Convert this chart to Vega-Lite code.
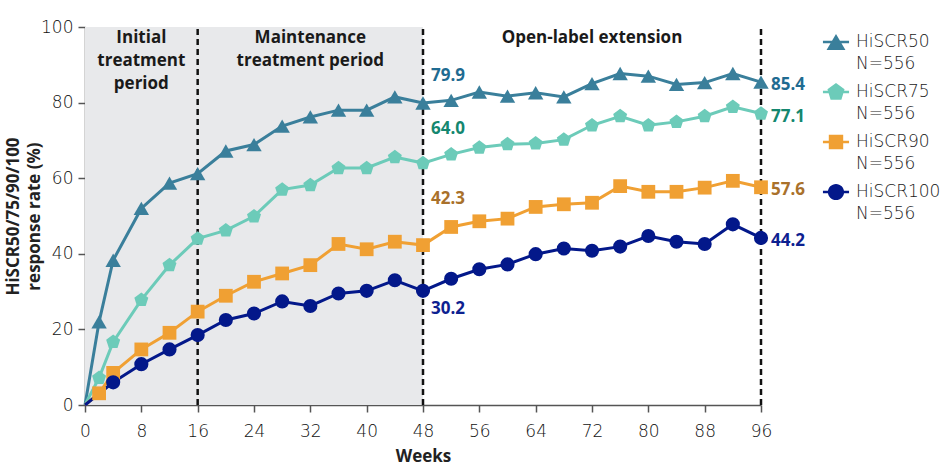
{
  "$schema": "https://vega.github.io/schema/vega-lite/v6.json",
  "width": 676,
  "height": 378,
  "autosize": "none",
  "padding": {"left": 85, "top": 27, "right": 186, "bottom": 69},
  "background": "white",
  "config": {
    "font": "Open Sans",
    "view": {"stroke": null},
    "style": {"guide-label": {"lineHeight": 21.5}},
    "axis": {
      "grid": false,
      "domainColor": "#555555",
      "domainWidth": 1.5,
      "tickColor": "#555555",
      "tickWidth": 1.5,
      "tickSize": 7,
      "labelFont": "DejaVu Sans",
      "labelFontSize": 17,
      "labelFontWeight": 300,
      "labelColor": "#111111",
      "titleFont": "Open Sans",
      "titleFontSize": 17,
      "titleFontWeight": "bold",
      "titleColor": "#222222"
    },
    "legend": {
      "orient": "none", "legendX": 742, "legendY": 6, "title": null, "padding": 0,
      "symbolSize": 324, "labelFontSize": 17, "labelFont": "DejaVu Sans", "labelFontWeight": 300, "labelColor": "#1a1a1a",
      "labelOffset": 11, "rowPadding": 11, "labelLimit": 200
    }
  },
  "datasets": {
    "resp": [
      {"week": 0, "series": "HiSCR50", "value": 0},
      {"week": 2, "series": "HiSCR50", "value": 22.0},
      {"week": 4, "series": "HiSCR50", "value": 38.3},
      {"week": 8, "series": "HiSCR50", "value": 52.0},
      {"week": 12, "series": "HiSCR50", "value": 58.7},
      {"week": 16, "series": "HiSCR50", "value": 61.2},
      {"week": 20, "series": "HiSCR50", "value": 67.2},
      {"week": 24, "series": "HiSCR50", "value": 68.9},
      {"week": 28, "series": "HiSCR50", "value": 73.8},
      {"week": 32, "series": "HiSCR50", "value": 76.2},
      {"week": 36, "series": "HiSCR50", "value": 78.0},
      {"week": 40, "series": "HiSCR50", "value": 78.0},
      {"week": 44, "series": "HiSCR50", "value": 81.5},
      {"week": 48, "series": "HiSCR50", "value": 79.9},
      {"week": 52, "series": "HiSCR50", "value": 80.6},
      {"week": 56, "series": "HiSCR50", "value": 82.8},
      {"week": 60, "series": "HiSCR50", "value": 81.7},
      {"week": 64, "series": "HiSCR50", "value": 82.6},
      {"week": 68, "series": "HiSCR50", "value": 81.5},
      {"week": 72, "series": "HiSCR50", "value": 85.0},
      {"week": 76, "series": "HiSCR50", "value": 87.7},
      {"week": 80, "series": "HiSCR50", "value": 87.0},
      {"week": 84, "series": "HiSCR50", "value": 84.8},
      {"week": 88, "series": "HiSCR50", "value": 85.3},
      {"week": 92, "series": "HiSCR50", "value": 87.7},
      {"week": 96, "series": "HiSCR50", "value": 85.4},
      {"week": 0, "series": "HiSCR75", "value": 0},
      {"week": 2, "series": "HiSCR75", "value": 7.2},
      {"week": 4, "series": "HiSCR75", "value": 16.7},
      {"week": 8, "series": "HiSCR75", "value": 27.8},
      {"week": 12, "series": "HiSCR75", "value": 37.0},
      {"week": 16, "series": "HiSCR75", "value": 44.0},
      {"week": 20, "series": "HiSCR75", "value": 46.2},
      {"week": 24, "series": "HiSCR75", "value": 49.9},
      {"week": 28, "series": "HiSCR75", "value": 57.0},
      {"week": 32, "series": "HiSCR75", "value": 58.2},
      {"week": 36, "series": "HiSCR75", "value": 62.7},
      {"week": 40, "series": "HiSCR75", "value": 62.7},
      {"week": 44, "series": "HiSCR75", "value": 65.6},
      {"week": 48, "series": "HiSCR75", "value": 64.0},
      {"week": 52, "series": "HiSCR75", "value": 66.3},
      {"week": 56, "series": "HiSCR75", "value": 68.1},
      {"week": 60, "series": "HiSCR75", "value": 69.0},
      {"week": 64, "series": "HiSCR75", "value": 69.2},
      {"week": 68, "series": "HiSCR75", "value": 70.2},
      {"week": 72, "series": "HiSCR75", "value": 74.0},
      {"week": 76, "series": "HiSCR75", "value": 76.4},
      {"week": 80, "series": "HiSCR75", "value": 74.0},
      {"week": 84, "series": "HiSCR75", "value": 74.9},
      {"week": 88, "series": "HiSCR75", "value": 76.4},
      {"week": 92, "series": "HiSCR75", "value": 78.9},
      {"week": 96, "series": "HiSCR75", "value": 77.1},
      {"week": 0, "series": "HiSCR90", "value": 0},
      {"week": 2, "series": "HiSCR90", "value": 3.1},
      {"week": 4, "series": "HiSCR90", "value": 8.5},
      {"week": 8, "series": "HiSCR90", "value": 14.7},
      {"week": 12, "series": "HiSCR90", "value": 19.1},
      {"week": 16, "series": "HiSCR90", "value": 24.7},
      {"week": 20, "series": "HiSCR90", "value": 28.9},
      {"week": 24, "series": "HiSCR90", "value": 32.6},
      {"week": 28, "series": "HiSCR90", "value": 34.8},
      {"week": 32, "series": "HiSCR90", "value": 37.0},
      {"week": 36, "series": "HiSCR90", "value": 42.6},
      {"week": 40, "series": "HiSCR90", "value": 41.2},
      {"week": 44, "series": "HiSCR90", "value": 43.2},
      {"week": 48, "series": "HiSCR90", "value": 42.3},
      {"week": 52, "series": "HiSCR90", "value": 47.1},
      {"week": 56, "series": "HiSCR90", "value": 48.6},
      {"week": 60, "series": "HiSCR90", "value": 49.3},
      {"week": 64, "series": "HiSCR90", "value": 52.4},
      {"week": 68, "series": "HiSCR90", "value": 53.1},
      {"week": 72, "series": "HiSCR90", "value": 53.5},
      {"week": 76, "series": "HiSCR90", "value": 57.9},
      {"week": 80, "series": "HiSCR90", "value": 56.4},
      {"week": 84, "series": "HiSCR90", "value": 56.4},
      {"week": 88, "series": "HiSCR90", "value": 57.5},
      {"week": 92, "series": "HiSCR90", "value": 59.3},
      {"week": 96, "series": "HiSCR90", "value": 57.6},
      {"week": 0, "series": "HiSCR100", "value": 0},
      {"week": 4, "series": "HiSCR100", "value": 6.0},
      {"week": 8, "series": "HiSCR100", "value": 10.8},
      {"week": 12, "series": "HiSCR100", "value": 14.7},
      {"week": 16, "series": "HiSCR100", "value": 18.5},
      {"week": 20, "series": "HiSCR100", "value": 22.5},
      {"week": 24, "series": "HiSCR100", "value": 24.2},
      {"week": 28, "series": "HiSCR100", "value": 27.4},
      {"week": 32, "series": "HiSCR100", "value": 26.2},
      {"week": 36, "series": "HiSCR100", "value": 29.5},
      {"week": 40, "series": "HiSCR100", "value": 30.2},
      {"week": 44, "series": "HiSCR100", "value": 33.0},
      {"week": 48, "series": "HiSCR100", "value": 30.2},
      {"week": 52, "series": "HiSCR100", "value": 33.4},
      {"week": 56, "series": "HiSCR100", "value": 35.9},
      {"week": 60, "series": "HiSCR100", "value": 37.2},
      {"week": 64, "series": "HiSCR100", "value": 39.9},
      {"week": 68, "series": "HiSCR100", "value": 41.4},
      {"week": 72, "series": "HiSCR100", "value": 40.8},
      {"week": 76, "series": "HiSCR100", "value": 41.9},
      {"week": 80, "series": "HiSCR100", "value": 44.7},
      {"week": 84, "series": "HiSCR100", "value": 43.2},
      {"week": 88, "series": "HiSCR100", "value": 42.6},
      {"week": 92, "series": "HiSCR100", "value": 47.8},
      {"week": 96, "series": "HiSCR100", "value": 44.2}
    ],
    "shaded": [{"start": 0, "end": 48}],
    "dividers": [{"week": 16}, {"week": 48}, {"week": 96}],
    "periods": [
      {"week": 8, "label": "Initial\ntreatment\nperiod"},
      {"week": 32, "label": "Maintenance\ntreatment period"},
      {"week": 72, "label": "Open-label extension"}
    ]
  },
  "layer": [
    {
      "data": {"name": "shaded"},
      "mark": {"type": "rect", "fill": "#e8e9eb"},
      "encoding": {
        "x": {"field": "start", "type": "quantitative", "scale": {"domain": [0, 96], "nice": false}, "axis": {"values": [0, 8, 16, 24, 32, 40, 48, 56, 64, 72, 80, 88, 96], "title": "Weeks", "labelPadding": 11, "titlePadding": 9, "labelFlush": false}},
        "x2": {"field": "end"},
        "y": {"datum": 0, "type": "quantitative", "scale": {"domain": [0, 100], "nice": false}, "axis": {"values": [0, 20, 40, 60, 80, 100], "title": ["HiSCR50/75/90/100", "response rate (%)"], "labelPadding": 5, "titleLineHeight": 21, "titleX": -72, "titleY": 189, "titleAlign": "center", "titleBaseline": "middle"}},
        "y2": {"datum": 100}
      }
    },
    {
      "data": {"name": "dividers"},
      "mark": {"type": "rule", "color": "#111111", "strokeWidth": 2.5, "strokeDash": [6, 4]},
      "encoding": {
        "x": {"field": "week", "type": "quantitative"},
        "y": {"datum": 0, "type": "quantitative"},
        "y2": {"datum": 100}
      }
    },
    {
      "data": {"name": "periods"},
      "mark": {"type": "text", "lineBreak": "\n", "align": "center", "baseline": "top", "fontWeight": "bold", "fontSize": 17, "lineHeight": 23, "dy": 3, "color": "#1a1a1a"},
      "encoding": {
        "x": {"field": "week", "type": "quantitative"},
        "y": {"datum": 100, "type": "quantitative"},
        "text": {"field": "label"}
      }
    },
    {
      "data": {"name": "resp"},
      "mark": {"type": "line", "strokeWidth": 3},
      "encoding": {
        "x": {"field": "week", "type": "quantitative"},
        "y": {"field": "value", "type": "quantitative"},
        "color": {"field": "series", "type": "nominal", "scale": {"domain": ["HiSCR50", "HiSCR75", "HiSCR90", "HiSCR100"], "range": ["#3a7f9b", "#6ccbb9", "#f0a033", "#03188a"]}},
        "order": {"field": "week"}
      }
    },
    {
      "data": {"name": "resp"},
      "transform": [{"filter": "datum.series === 'HiSCR50' && datum.week > 0"}],
      "mark": {"type": "point", "filled": true, "opacity": 1, "size": 196, "strokeWidth": 0, "shape": "M0,-0.95L1.1,0.95L-1.1,0.95Z"},
      "encoding": {
        "x": {"field": "week", "type": "quantitative"},
        "y": {"field": "value", "type": "quantitative"},
        "color": {"field": "series", "type": "nominal", "legend": {"labelExpr": "[datum.label, 'N=556']", "symbolStrokeWidth": 0, "symbolOpacity": 1, "symbolType": {"expr": "datum.value === 'HiSCR50' ? 'M-1.45,-0.14L1.45,-0.14L1.45,0.14L-1.45,0.14ZM0,-0.9L1.05,0.9L-1.05,0.9Z' : datum.value === 'HiSCR75' ? 'M-1.45,-0.14L1.45,-0.14L1.45,0.14L-1.45,0.14ZM0,-1L0.95,-0.3L0.6,0.85L-0.6,0.85L-0.95,-0.3Z' : datum.value === 'HiSCR90' ? 'M-1.45,-0.14L1.45,-0.14L1.45,0.14L-1.45,0.14ZM-0.8,-0.8L0.8,-0.8L0.8,0.8L-0.8,0.8Z' : 'M-1.45,-0.14L1.45,-0.14L1.45,0.14L-1.45,0.14ZM0.9,0A0.9,0.9,0,1,1,-0.9,0A0.9,0.9,0,1,1,0.9,0Z'"}}}
      }
    },
    {
      "data": {"name": "resp"},
      "transform": [{"filter": "datum.series === 'HiSCR75' && datum.week > 0"}],
      "mark": {"type": "point", "filled": true, "opacity": 1, "size": 196, "strokeWidth": 0, "shape": "M0,-1.05L1,-0.3L0.62,0.88L-0.62,0.88L-1,-0.3Z"},
      "encoding": {
        "x": {"field": "week", "type": "quantitative"},
        "y": {"field": "value", "type": "quantitative"},
        "color": {"field": "series", "type": "nominal", "legend": {"labelExpr": "[datum.label, 'N=556']", "symbolStrokeWidth": 0, "symbolOpacity": 1, "symbolType": {"expr": "datum.value === 'HiSCR50' ? 'M-1.45,-0.14L1.45,-0.14L1.45,0.14L-1.45,0.14ZM0,-0.9L1.05,0.9L-1.05,0.9Z' : datum.value === 'HiSCR75' ? 'M-1.45,-0.14L1.45,-0.14L1.45,0.14L-1.45,0.14ZM0,-1L0.95,-0.3L0.6,0.85L-0.6,0.85L-0.95,-0.3Z' : datum.value === 'HiSCR90' ? 'M-1.45,-0.14L1.45,-0.14L1.45,0.14L-1.45,0.14ZM-0.8,-0.8L0.8,-0.8L0.8,0.8L-0.8,0.8Z' : 'M-1.45,-0.14L1.45,-0.14L1.45,0.14L-1.45,0.14ZM0.9,0A0.9,0.9,0,1,1,-0.9,0A0.9,0.9,0,1,1,0.9,0Z'"}}}
      }
    },
    {
      "data": {"name": "resp"},
      "transform": [{"filter": "datum.series === 'HiSCR90' && datum.week > 0"}],
      "mark": {"type": "point", "filled": true, "opacity": 1, "size": 190, "strokeWidth": 0, "shape": "square"},
      "encoding": {
        "x": {"field": "week", "type": "quantitative"},
        "y": {"field": "value", "type": "quantitative"},
        "color": {"field": "series", "type": "nominal", "legend": {"labelExpr": "[datum.label, 'N=556']", "symbolStrokeWidth": 0, "symbolOpacity": 1, "symbolType": {"expr": "datum.value === 'HiSCR50' ? 'M-1.45,-0.14L1.45,-0.14L1.45,0.14L-1.45,0.14ZM0,-0.9L1.05,0.9L-1.05,0.9Z' : datum.value === 'HiSCR75' ? 'M-1.45,-0.14L1.45,-0.14L1.45,0.14L-1.45,0.14ZM0,-1L0.95,-0.3L0.6,0.85L-0.6,0.85L-0.95,-0.3Z' : datum.value === 'HiSCR90' ? 'M-1.45,-0.14L1.45,-0.14L1.45,0.14L-1.45,0.14ZM-0.8,-0.8L0.8,-0.8L0.8,0.8L-0.8,0.8Z' : 'M-1.45,-0.14L1.45,-0.14L1.45,0.14L-1.45,0.14ZM0.9,0A0.9,0.9,0,1,1,-0.9,0A0.9,0.9,0,1,1,0.9,0Z'"}}}
      }
    },
    {
      "data": {"name": "resp"},
      "transform": [{"filter": "datum.series === 'HiSCR100' && datum.week > 0"}],
      "mark": {"type": "point", "filled": true, "opacity": 1, "size": 200, "strokeWidth": 0, "shape": "circle"},
      "encoding": {
        "x": {"field": "week", "type": "quantitative"},
        "y": {"field": "value", "type": "quantitative"},
        "color": {"field": "series", "type": "nominal", "legend": {"labelExpr": "[datum.label, 'N=556']", "symbolStrokeWidth": 0, "symbolOpacity": 1, "symbolType": {"expr": "datum.value === 'HiSCR50' ? 'M-1.45,-0.14L1.45,-0.14L1.45,0.14L-1.45,0.14ZM0,-0.9L1.05,0.9L-1.05,0.9Z' : datum.value === 'HiSCR75' ? 'M-1.45,-0.14L1.45,-0.14L1.45,0.14L-1.45,0.14ZM0,-1L0.95,-0.3L0.6,0.85L-0.6,0.85L-0.95,-0.3Z' : datum.value === 'HiSCR90' ? 'M-1.45,-0.14L1.45,-0.14L1.45,0.14L-1.45,0.14ZM-0.8,-0.8L0.8,-0.8L0.8,0.8L-0.8,0.8Z' : 'M-1.45,-0.14L1.45,-0.14L1.45,0.14L-1.45,0.14ZM0.9,0A0.9,0.9,0,1,1,-0.9,0A0.9,0.9,0,1,1,0.9,0Z'"}}}
      }
    },
    {
      "data": {"name": "resp"},
      "transform": [{"filter": "datum.week === 48 && datum.series === 'HiSCR50'"}],
      "mark": {"type": "text", "align": "left", "baseline": "middle", "fontWeight": "bold", "fontSize": 17, "dx": 8, "dy": -27, "color": "#1f6b91"},
      "encoding": {"x": {"field": "week", "type": "quantitative"}, "y": {"field": "value", "type": "quantitative"}, "text": {"field": "value", "type": "quantitative", "format": ".1f"}}
    },
    {
      "data": {"name": "resp"},
      "transform": [{"filter": "datum.week === 48 && datum.series === 'HiSCR75'"}],
      "mark": {"type": "text", "align": "left", "baseline": "middle", "fontWeight": "bold", "fontSize": 17, "dx": 8, "dy": -34, "color": "#14876f"},
      "encoding": {"x": {"field": "week", "type": "quantitative"}, "y": {"field": "value", "type": "quantitative"}, "text": {"field": "value", "type": "quantitative", "format": ".1f"}}
    },
    {
      "data": {"name": "resp"},
      "transform": [{"filter": "datum.week === 48 && datum.series === 'HiSCR90'"}],
      "mark": {"type": "text", "align": "left", "baseline": "middle", "fontWeight": "bold", "fontSize": 17, "dx": 8, "dy": -46, "color": "#a9712b"},
      "encoding": {"x": {"field": "week", "type": "quantitative"}, "y": {"field": "value", "type": "quantitative"}, "text": {"field": "value", "type": "quantitative", "format": ".1f"}}
    },
    {
      "data": {"name": "resp"},
      "transform": [{"filter": "datum.week === 48 && datum.series === 'HiSCR100'"}],
      "mark": {"type": "text", "align": "left", "baseline": "middle", "fontWeight": "bold", "fontSize": 17, "dx": 8, "dy": 18, "color": "#0d2190"},
      "encoding": {"x": {"field": "week", "type": "quantitative"}, "y": {"field": "value", "type": "quantitative"}, "text": {"field": "value", "type": "quantitative", "format": ".1f"}}
    },
    {
      "data": {"name": "resp"},
      "transform": [{"filter": "datum.week === 96"}],
      "mark": {"type": "text", "align": "left", "baseline": "middle", "fontWeight": "bold", "fontSize": 17, "dx": 10, "dy": 3},
      "encoding": {
        "x": {"field": "week", "type": "quantitative"},
        "y": {"field": "value", "type": "quantitative"},
        "text": {"field": "value", "type": "quantitative", "format": ".1f"},
        "color": {"condition": [
          {"test": "datum.series === 'HiSCR50'", "value": "#1f6b91"},
          {"test": "datum.series === 'HiSCR75'", "value": "#14876f"},
          {"test": "datum.series === 'HiSCR90'", "value": "#a9712b"}
        ], "value": "#0d2190"}
      }
    }
  ]
}
